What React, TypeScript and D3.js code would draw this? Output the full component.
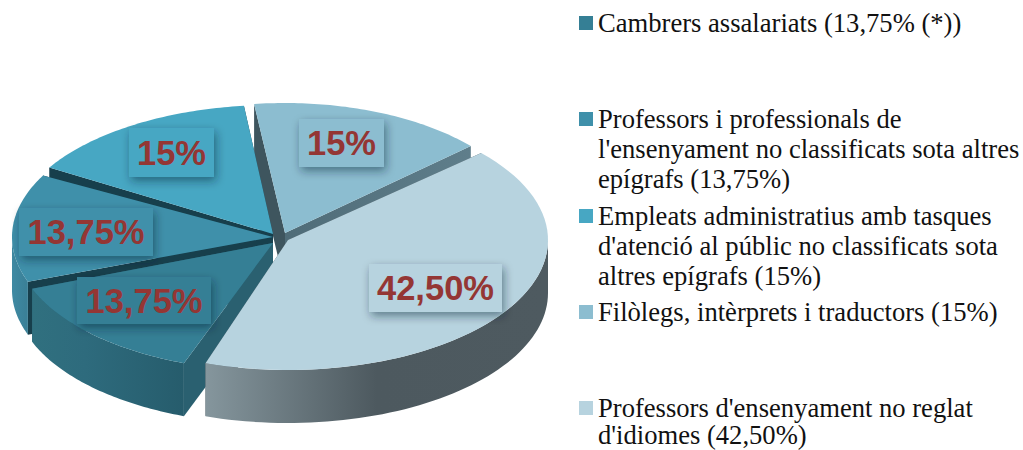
import React from 'react';
import * as d3 from 'd3';

// legend order, clockwise on the pie starting at the bottom
const categories = [
  'Cambrers assalariats',
  'Professors i professionals',
  'Empleats administratius',
  'Filòlegs',
  "Professors d'ensenyament",
];
const shares = [13.75, 13.75, 15, 15, 42.5];
const sliceLabels = ['13,75%', '13,75%', '15%', '15%', '42,50%'];
const legendLines = [
  ['Cambrers assalariats (13,75% (*))'],
  ['Professors i professionals de', "l'ensenyament no classificats sota altres", 'epígrafs (13,75%)'],
  ['Empleats administratius amb tasques', "d'atenció al públic no classificats sota", 'altres epígrafs (15%)'],
  ['Filòlegs, intèrprets i traductors (15%)'],
  ["Professors d'ensenyament no reglat", "d'idiomes (42,50%)"],
];

const WIDTH = 1023;
const HEIGHT = 450;
const DEPTH = 53;
const deg = (a: number) => (a * Math.PI) / 180;
const START = deg(199.5);

// per-slice layout: apex of the exploded slice, radii, label box, legend row
const apexes = [
  [273, 243],
  [273, 237],
  [273, 234],
  [285, 233],
  [288, 240],
];
const radiiX = [258, 261, 261, 250, 260];
const radiiY = [128, 130, 129, 130, 130];
// the slices are pulled apart, so their visible corners sit a little off the exact shares
const startTrim = [0.7, 0.9, 2.5, 0.4, 1.5];
const endTrim = [0, -0.3, 1.1, 1.5, -1];
const labelBoxes = [
  [77, 277, 134, 47],
  [19, 208, 134, 48],
  [129, 128, 85, 49],
  [299, 119, 85, 48],
  [369, 264, 133, 48],
];
const legendY = [32, 128, 225, 321, 417];
// last block is tightened so its final line stays inside the picture
const legendStep = [30, 30, 30, 30, 27];

const topColors = ['#357f95', '#3f90aa', '#47a7c3', '#8cbdd0', '#b7d3df'];
const startCutColors = ['#2a6070', '#173f4c', '#173f4c', '#3e555e', '#4c585e'];
const endCutColors = ['#2a6070', '#173f4c', '#173f4c', 'url(#cutFil)', '#4c585e'];
const legendColors = ['#357f95', '#3f90aa', '#47a7c3', '#8cbdd0', '#b7d3df'];

const wallStops = [
  [['0%', '#30707f'], ['35%', '#2e6b7d'], ['100%', '#265c6c']],
  [['0%', '#3f8aa3'], ['100%', '#3a7f96']],
  [['0%', '#3f93ad'], ['100%', '#3f93ad']],
  [['0%', '#5f7e8b'], ['100%', '#5f7e8b']],
  [['0%', '#85969d'], ['50%', '#4d595f'], ['100%', '#4e5a60']],
];

const pie = d3
  .pie<number>()
  .sort(null)
  .startAngle(START)
  .endAngle(START + 2 * Math.PI);
const arcs = pie(shares);
const line = d3.line();

function App() {
  const slices = arcs.map((a, i) => {
    const x = d3.scaleLinear().domain([0, 1]).range([apexes[i][0], apexes[i][0] + radiiX[i]]);
    const y = d3.scaleLinear().domain([0, 1]).range([apexes[i][1], apexes[i][1] + radiiY[i]]);
    const rim = (t: number): [number, number] => [x(Math.sin(t)), y(-Math.cos(t))];
    const samples = (t0: number, t1: number) =>
      d3.range(0, 61).map(k => rim(t0 + ((t1 - t0) * k) / 60));
    const drop = (p: [number, number]): [number, number] => [p[0], p[1] + DEPTH];
    const apex: [number, number] = [x(0), y(0)];
    const from = a.startAngle + deg(startTrim[i]);
    const to = a.endAngle + deg(endTrim[i]);

    const top = line([apex, ...samples(from, to)]) + 'Z';
    const cut = (t: number) => {
      const r = rim(t);
      return line([apex, r, drop(r), drop(apex)]) + 'Z';
    };

    // outer wall only shows on the front half of the rim
    let wall: string | null = null;
    for (const shift of [0, 2 * Math.PI]) {
      const t0 = Math.max(from, deg(90) + shift);
      const t1 = Math.min(to, deg(270) + shift);
      if (t1 > t0) {
        const pts = samples(t0, t1);
        wall = line([...pts, ...pts.map(drop).reverse()]) + 'Z';
      }
    }
    return { top, wall, startCut: cut(from), endCut: cut(to) };
  });

  return (
    <svg
      width={WIDTH}
      height={HEIGHT}
      style={{ position: 'absolute', left: 0, top: 0, background: '#fff' }}
    >
      <defs>
        <filter id="boxShadow" x="-30%" y="-50%" width="160%" height="210%">
          <feDropShadow dx="2" dy="4" stdDeviation="5" floodColor="#0a2530" floodOpacity="0.48" />
        </filter>
        <linearGradient id="cutFil" x1="0" x2="1" y1="0" y2="0">
          <stop offset="0%" stopColor="#4f6c78" />
          <stop offset="100%" stopColor="#5f7e8b" />
        </linearGradient>
        {wallStops.map((stops, i) => (
          <linearGradient key={i} id={`wall${i}`} x1="0" x2="1" y1="0" y2="0">
            {stops.map(([o, c]) => (
              <stop key={o} offset={o} stopColor={c} />
            ))}
          </linearGradient>
        ))}
      </defs>

      {/* painter's order: back slice first, big front slice last */}
      {[3, 2, 1, 0, 4].map(i => (
        <g key={categories[i]}>
          <path d={slices[i].endCut} fill={endCutColors[i]} />
          <path d={slices[i].startCut} fill={startCutColors[i]} />
          {slices[i].wall && <path d={slices[i].wall!} fill={`url(#wall${i})`} />}
          <path d={slices[i].top} fill={topColors[i]} />
        </g>
      ))}

      {sliceLabels.map((label, i) => {
        const [bx, by, bw, bh] = labelBoxes[i];
        return (
          <g key={i}>
            <rect x={bx} y={by} width={bw} height={bh} fill={topColors[i]} filter="url(#boxShadow)" />
            <text
              x={bx + bw / 2}
              y={by + bh / 2 + 12}
              textAnchor="middle"
              fontFamily="'Liberation Sans', Arial, sans-serif"
              fontWeight="bold"
              fontSize={34.5}
              fill="#943634"
            >
              {label}
            </text>
          </g>
        );
      })}

      {legendLines.map((rows, i) => (
        <g key={i}>
          <rect x={579} y={legendY[i] - 16} width={14} height={14} fill={legendColors[i]} />
          {rows.map((row, k) => (
            <text
              key={k}
              x={598}
              y={legendY[i] + k * legendStep[i]}
              fontFamily="'Liberation Serif', 'Times New Roman', serif"
              fontSize={26.6}
              fill="#111"
            >
              {row}
            </text>
          ))}
        </g>
      ))}
    </svg>
  );
}

export default App;
